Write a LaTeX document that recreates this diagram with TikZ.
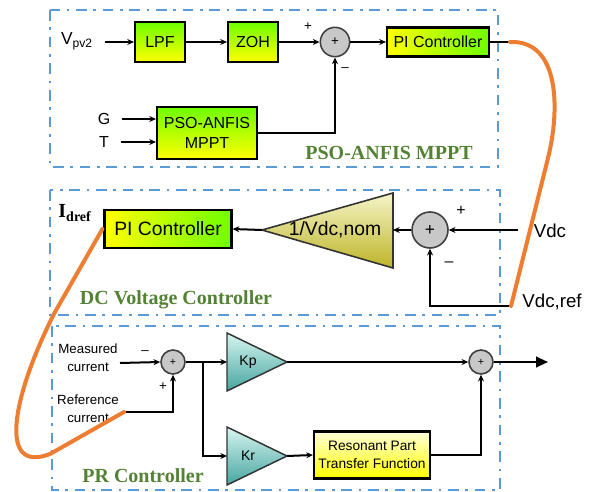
\documentclass[tikz,border=0pt]{standalone}
\usepackage{fontspec}
\setmainfont{Liberation Sans}
\newfontfamily\serifb{Liberation Serif}
\usetikzlibrary{arrows.meta,calc}
\definecolor{dashblue}{RGB}{91,155,213}
\definecolor{lblgreen}{RGB}{84,130,53}
\definecolor{wireorange}{RGB}{237,125,49}
\definecolor{ygreen}{RGB}{110,255,0}
\definecolor{yyel}{RGB}{255,255,0}
\definecolor{sumgray}{RGB}{200,200,200}
\definecolor{olivedark}{RGB}{190,180,40}
\definecolor{olivelight}{RGB}{245,245,200}
\definecolor{tealdark}{RGB}{70,165,160}
\definecolor{teallight}{RGB}{215,245,240}
\newcommand\fsz[2]{\fontsize{#1}{#2}\selectfont}
\begin{document}
\begin{tikzpicture}[x=0.75pt,y=-0.75pt,
  grp/.style={draw=dashblue,line width=2pt,dash pattern=on 8pt off 5pt on 2pt off 5pt},
  wire/.style={line width=1.5pt},
  arr/.style={wire,-{Stealth[length=5pt,width=4.5pt]}},
  blk/.style={draw,line width=1.6pt,inner sep=0pt,align=center},
  vgrad/.style={blk,top color=ygreen,bottom color=yyel},
  hgrad/.style={blk,left color=yyel,right color=ygreen},
  sumc/.style={circle,draw=black!75,line width=1.2pt,fill=sumgray,inner sep=0pt},
  lbl/.style={text=lblgreen,font=\serifb\bfseries\fsz{15}{17}},
  orw/.style={draw=wireorange,line width=3pt,line cap=round},
  sign/.style={inner sep=0pt,font=\fsz{10}{10}}
]
\useasboundingbox (0,0) rectangle (597,492);

% group boxes
\draw[grp] (50,10) rectangle (498,167);
\draw[grp] (50,190) rectangle (500,315);
\draw[grp] (52,326) rectangle (500,490);

% ---------- PSO-ANFIS MPPT ----------
\node[inner sep=0pt,font=\fsz{13}{15}] (vpv) at (77,41) {V\textsubscript{pv2}};
\coordinate (vpvout) at (105,42);
\node[vgrad,minimum width=37.5pt,minimum height=30pt,font=\fsz{12}{14}] (lpf) at (160,42) {LPF};
\node[vgrad,minimum width=37.5pt,minimum height=30pt,font=\fsz{12}{14}] (zoh) at (253,42) {ZOH};
\node[sumc,minimum size=22pt,font=\fsz{10}{10}] (s1) at (335,42) {+};
\node[hgrad,minimum width=76.5pt,minimum height=21.75pt,font=\fsz{12}{14}] (pi1) at (438,42) {PI Controller};
\node[vgrad,minimum width=75pt,minimum height=39pt,font=\fsz{12}{15}] (pso) at (207,133) {PSO-ANFIS\\MPPT};
\node[inner sep=0pt,font=\fsz{12}{14}] (g) at (104,119) {G};
\node[inner sep=0pt,font=\fsz{12}{14}] (t) at (104,142) {T};
\node[sign] (p1) at (308,27) {+};
\node[sign] (m1) at (345,70) {\textendash};
\node[lbl] (lab1) at (389,153) {PSO-ANFIS MPPT};
\coordinate (pi1out) at (510,42);

\draw[arr] (vpvout) -- (lpf.west);
\draw[arr] (lpf) -- (zoh);
\draw[arr] (zoh) -- (s1);
\draw[arr] (s1) -- (pi1);
\draw[arr] ($(g.east)+(12,0)$) -- (g -| pso.west);
\draw[arr] ($(t.east)+(12,0)$) -- (t -| pso.west);
\draw[arr] (pso.east) -| (s1.south);
\draw[wire] (pi1.east) -- (pi1out);

% ---------- DC Voltage Controller ----------
\node[inner sep=0pt,font=\serifb\bfseries\fsz{15}{17}] (idref) at (75,213) {I\textsubscript{dref}};
\node[hgrad,minimum width=95.25pt,minimum height=28.5pt,font=\fsz{14.5}{16}] (pi2) at (168,229) {PI Controller};
\coordinate (gtip) at (262,230);
\coordinate (gbase) at (393,230);
\path[draw=black!80,line width=1.2pt,top color=olivelight,bottom color=olivedark]
  (393,193) -- (gtip) -- (393,268) -- cycle;
\node[inner sep=0pt,font=\fsz{14.5}{16}] (gain) at (335,230) {1/Vdc,nom};
\node[sumc,minimum size=27pt,font=\fsz{13}{13}] (s2) at (430,230) {+};
\node[inner sep=0pt,font=\fsz{14}{16}] (vdc) at (550,231) {Vdc};
\node[inner sep=0pt,font=\fsz{14}{16}] (vdcref) at (552,302) {Vdc,ref};
\node[sign,font=\fsz{12}{12}] (p2) at (461,211) {+};
\node[sign,font=\fsz{12}{12}] (m2) at (449,264) {\textendash};
\node[lbl] (lab2) at (176,300) {DC Voltage Controller};
\coordinate (vdcin) at (518,230);
\coordinate (refin) at (511,306);

\draw[arr] (vdcin) -- (s2.east);
\draw[arr] (s2.west) -- (gbase);
\draw[arr] (gtip) -- (pi2.east);
\draw[arr] (refin) -| (s2.south);

% ---------- PR Controller ----------
\node[inner sep=0pt,align=center,font=\fsz{10}{13.5}] (meas) at (88,358) {Measured\\current};
\node[inner sep=0pt,align=center,font=\fsz{10}{13.5}] (refc) at (88,409) {Reference\\current};
\node[sumc,minimum size=18pt,font=\fsz{8}{8}] (s3) at (173,362) {+};
\node[sign] (m3) at (145,353) {\textendash};
\node[sign] (p3) at (163,387) {+};
\coordinate (measout) at (120,363);
\coordinate (refout) at (124,412);
\coordinate (br) at (203,362);
\coordinate (kpin) at (227,362);
\coordinate (kpout) at (287,362);
\coordinate (krin) at (227,456);
\coordinate (krout) at (287,456);
\path[draw=black!80,line width=1.1pt,top color=teallight,bottom color=tealdark]
  (227,333) -- (kpout) -- (227,391) -- cycle;
\path[draw=black!80,line width=1.1pt,top color=teallight,bottom color=tealdark]
  (227,427) -- (krout) -- (227,485) -- cycle;
\node[inner sep=0pt,font=\fsz{10.5}{12}] (kp) at (248,362) {Kp};
\node[inner sep=0pt,font=\fsz{10.5}{12}] (kr) at (248,456) {Kr};
\node[blk,top color=yellow!15,bottom color=yyel,minimum width=87pt,minimum height=35.25pt,font=\fsz{10.3}{13.5}] (res) at (372,455) {Resonant Part\\Transfer Function};
\node[sumc,minimum size=18pt,font=\fsz{8}{8}] (s4) at (481,362) {+};
\coordinate (outend) at (548,362);
\node[lbl] (lab3) at (143,476) {PR Controller};

\draw[arr] (measout) -- (s3.west);
\draw[arr] (refout) -| (s3.south);
\draw[arr] (s3.east) -- (kpin);
\draw[arr] (br) |- (krin);
\draw[arr] (kpout) -- (s4.west);
\draw[arr] (krout) -- (res.west);
\draw[arr] (res.east) -| (s4.south);
\draw[wire,-{Triangle[length=9pt,width=8pt]}] (s4.east) -- (outend);

% ---------- orange links ----------
\draw[orw] (pi1out) .. controls (560,40) and (560,110) .. (548,158) -- (refin);
\draw[orw] ($(pi2.west)+(-1,0)$) -- (55,312) .. controls (15,390) and (-5,475) .. (50,454) -- (refout);
\end{tikzpicture}
\end{document}
